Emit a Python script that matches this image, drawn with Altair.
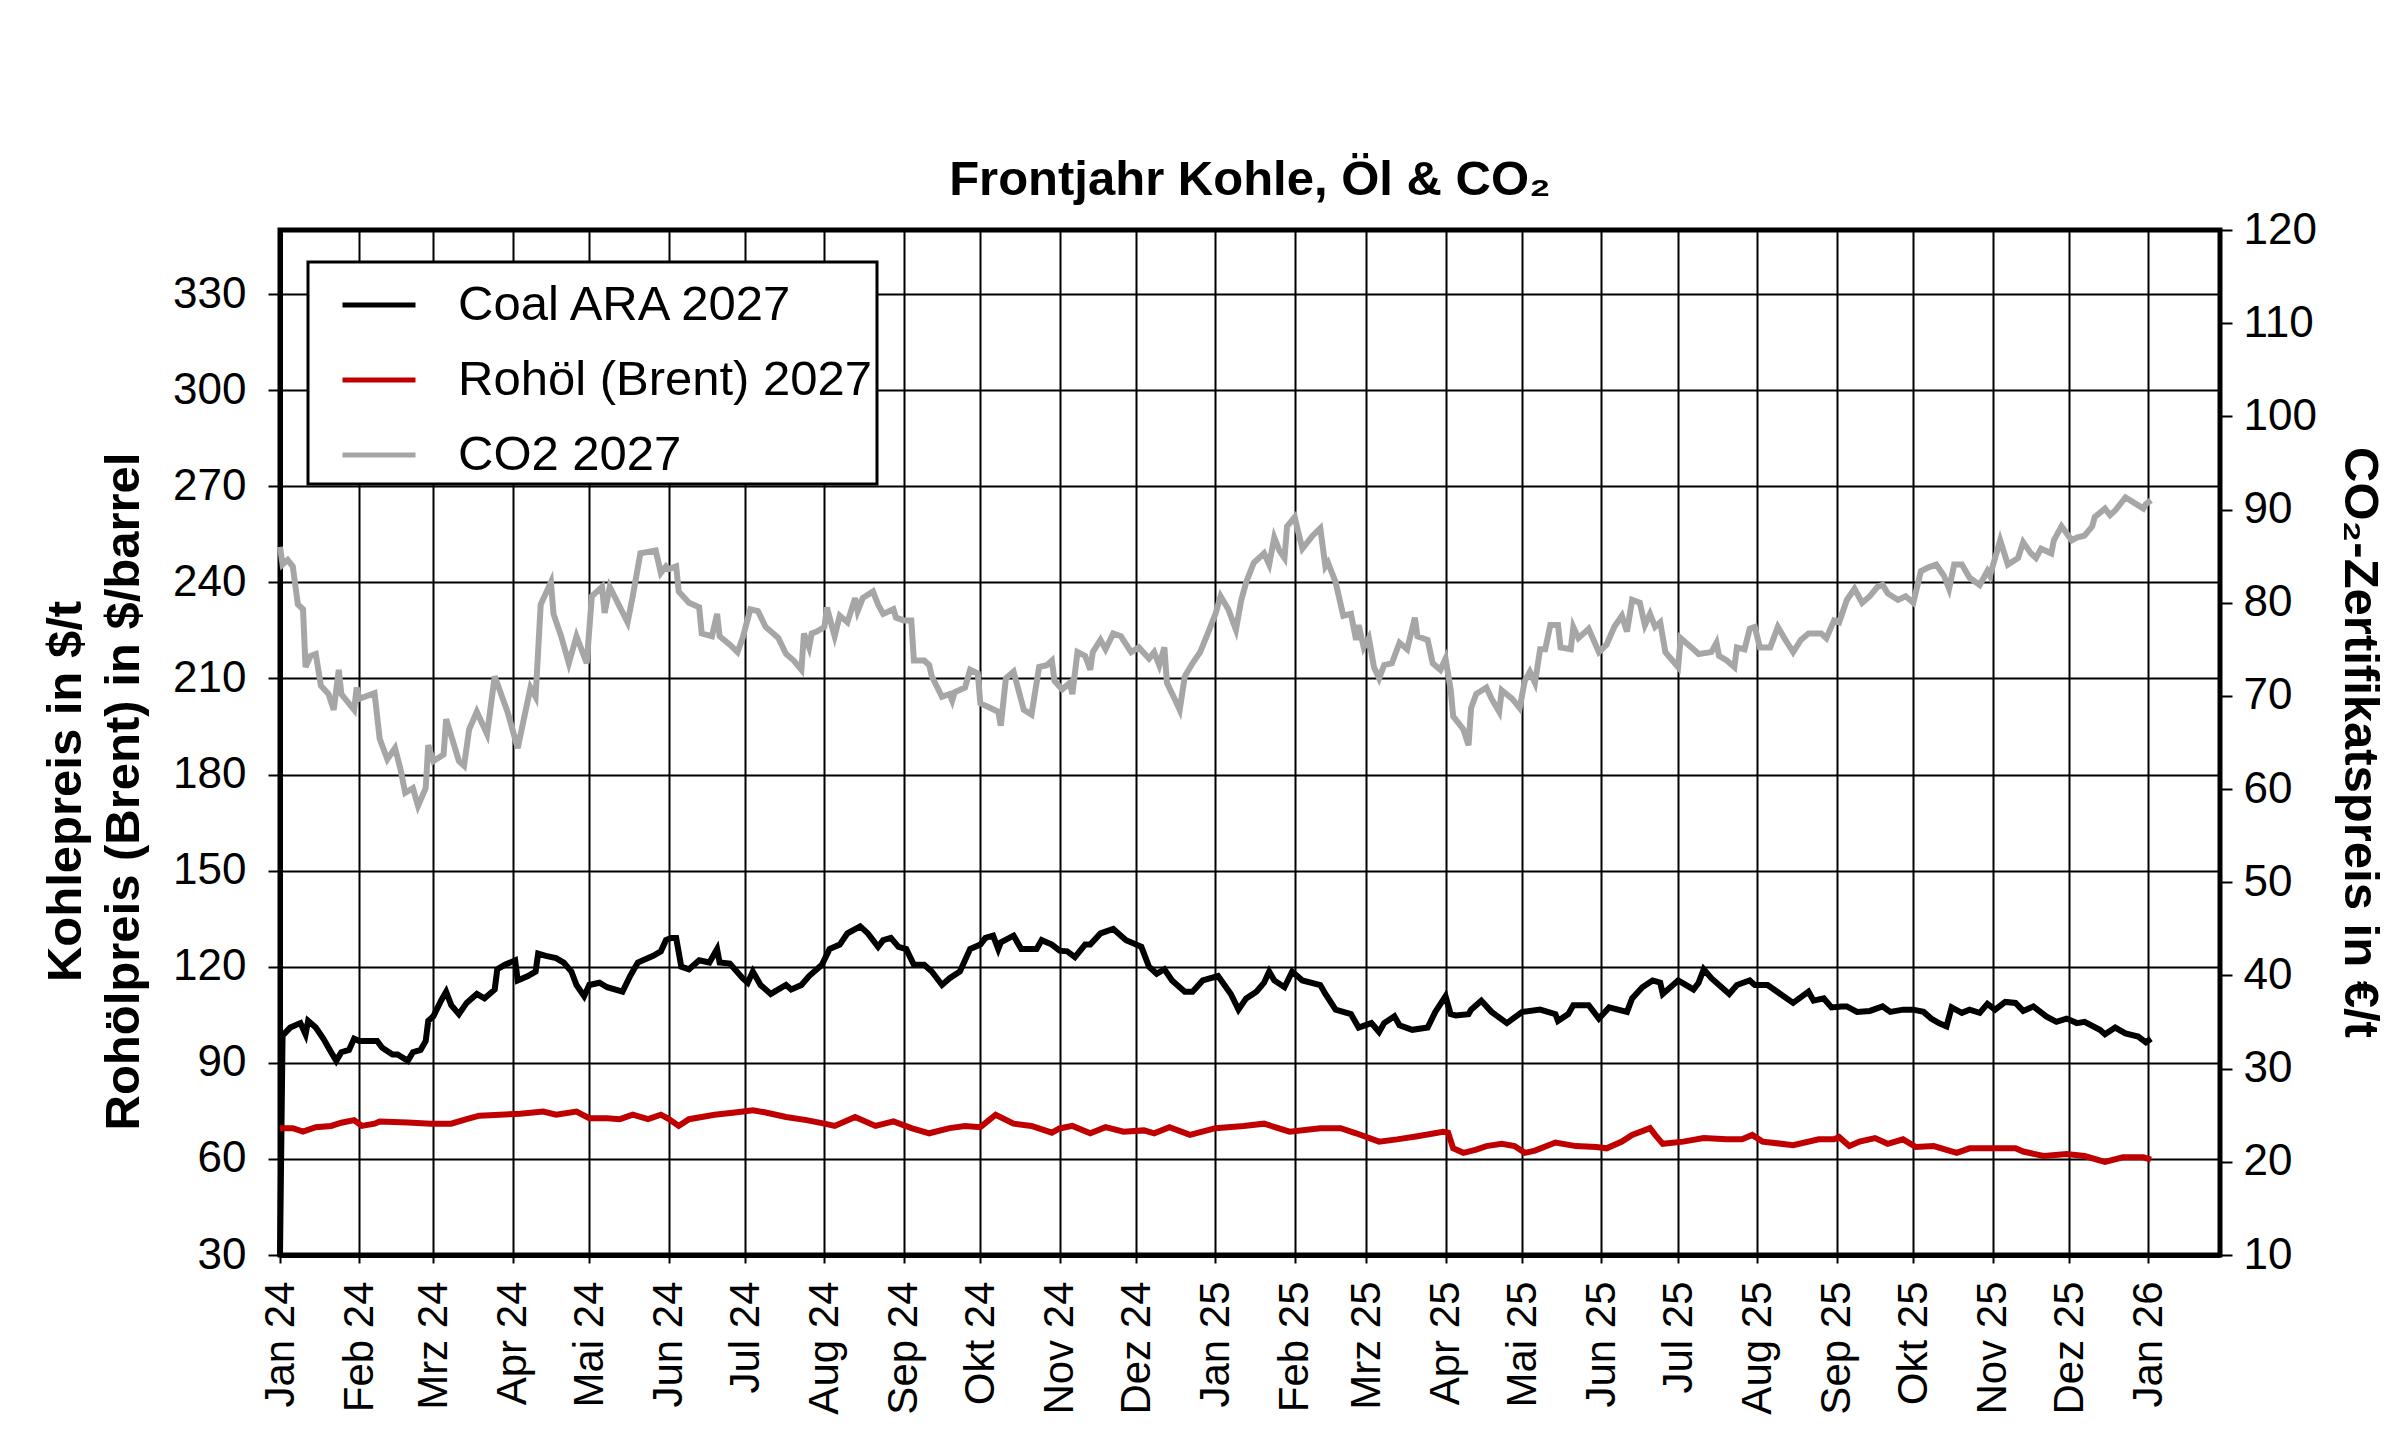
import altair as alt
import pandas as pd

START = "2024-01-01"
SERIES = ["Coal ARA 2027", "Rohöl (Brent) 2027", "CO2 2027"]
COLORS = ["#000000", "#c00000", "#a6a6a6"]
MONTHS_DE = ["Jan", "Feb", "Mrz", "Apr", "Mai", "Jun", "Jul", "Aug", "Sep", "Okt", "Nov", "Dez"]

# days since 2024-01-01
coal_days = [0, 1, 4, 8, 10, 11, 14, 17, 20, 22, 24, 27, 29, 31, 38, 40, 44, 46, 50, 52, 55, 57, 58, 60, 63, 65,
             67, 70, 73, 77, 80, 84, 85, 88, 92, 93, 97, 100, 101, 104, 108, 111, 114, 116, 119, 121, 125, 128, 134,
             137, 140, 146, 149, 151, 153, 155, 157, 160, 164, 168, 171, 172, 176, 181, 183, 185, 188, 192, 195, 198,
             200, 204, 207, 212, 215, 219, 222, 227, 230, 234, 236, 239, 242, 245, 248, 252, 255, 259, 262, 266, 270,
             274, 276, 279, 281, 282, 287, 290, 296, 298, 302, 305, 308, 311, 315, 317, 321, 326, 331, 337, 340, 343,
             346, 349, 354, 357, 361, 367, 372, 375, 378, 382, 385, 387, 389, 393, 396, 400, 407, 409, 413, 416, 419,
             422, 427, 430, 432, 436, 438, 443, 449, 452, 456, 458, 460, 465, 466, 470, 474, 480, 486, 493, 499, 500,
             504, 506, 512, 516, 520, 527, 529, 533, 537, 540, 541, 547, 553, 555, 557, 560, 567, 570, 575, 577, 582,
             587, 592, 598, 600, 604, 607, 611, 613, 617, 622, 627, 630, 635, 639, 643, 646, 649, 652, 654, 658, 661,
             665, 668, 671, 675, 679, 682, 686, 691, 695, 699, 703, 706, 712, 714, 718, 722, 727, 730, 732]
coal_vals = [30.0, 98.5, 101.0, 102.4, 98.9, 103.1, 101.0, 97.5, 93.3, 90.6, 93.3, 94.0, 97.5, 96.8, 96.8, 94.7,
             92.6, 92.6, 90.6, 93.3, 94.0, 96.8, 103.1, 104.5, 109.4, 112.2, 108.0, 105.2, 108.7, 111.5, 110.1, 112.9,
             119.2, 120.6, 122.0, 115.7, 117.1, 118.5, 124.1, 123.4, 122.7, 121.3, 118.5, 114.3, 110.8, 114.3, 115.0,
             113.6, 112.2, 117.1, 121.3, 123.4, 124.8, 128.3, 129.0, 129.0, 120.0, 119.2, 122.0, 121.3, 125.5, 121.3,
             121.0, 116.4, 115.0, 118.5, 114.3, 111.5, 112.9, 114.3, 112.9, 114.3, 117.1, 120.6, 125.5, 126.9, 130.4,
             132.6, 130.4, 126.2, 128.3, 129.0, 126.2, 125.5, 120.6, 120.6, 118.5, 114.3, 116.4, 118.5, 125.5, 126.9,
             129.0, 129.7, 125.5, 127.6, 129.7, 125.5, 125.5, 128.3, 126.9, 125.0, 124.8, 123.0, 126.9, 126.9, 130.4,
             131.8, 128.3, 126.2, 120.0, 117.8, 119.2, 115.7, 112.2, 112.2, 115.7, 117.1, 111.5, 106.6, 110.1, 112.2,
             115.0, 118.5, 115.7, 113.6, 118.5, 115.7, 114.3, 111.5, 106.6, 105.9, 105.2, 101.0, 102.4, 99.6, 102.4,
             104.5, 101.7, 100.3, 101.0, 105.9, 110.8, 105.2, 104.8, 105.2, 106.6, 109.4, 105.9, 102.4, 105.9, 106.6,
             105.2, 103.1, 105.2, 108.0, 108.0, 103.8, 107.3, 105.9, 110.1, 113.6, 115.7, 115.0, 111.5, 115.7, 112.9,
             115.0, 119.2, 116.4, 111.5, 114.3, 115.7, 114.3, 114.3, 111.5, 108.7, 112.2, 109.4, 110.1, 107.3, 107.6,
             107.6, 105.9, 106.2, 107.6, 105.9, 106.6, 106.6, 105.9, 103.8, 102.4, 101.4, 107.3, 105.6, 106.6, 105.6,
             108.4, 106.6, 109.0, 108.7, 106.2, 107.6, 104.5, 102.8, 103.8, 102.4, 102.8, 100.3, 98.9, 101.0, 99.2,
             98.2, 96.4, 97.5]

oil_days = [0, 5, 9, 14, 20, 24, 29, 32, 37, 39, 50, 59, 67, 73, 78, 86, 94, 103, 108, 116, 121, 128, 133, 138, 144,
            149, 152, 156, 160, 165, 170, 178, 185, 190, 198, 206, 213, 217, 225, 233, 240, 247, 254, 262, 268, 274,
            280, 287, 294, 302, 305, 310, 317, 323, 330, 338, 342, 348, 356, 366, 377, 385, 395, 407, 415, 421, 430,
            437, 445, 455, 457, 459, 463, 468, 472, 478, 483, 487, 491, 499, 507, 515, 519, 525, 529, 536, 538, 541,
            549, 557, 566, 572, 576, 580, 592, 602, 608, 610, 614, 618, 624, 629, 635, 640, 647, 656, 661, 670, 679,
            682, 690, 699, 706, 714, 721, 729, 732]
oil_vals = [69.6, 69.6, 68.5, 69.9, 70.3, 71.3, 72.1, 70.3, 71.0, 71.7, 71.4, 71.0, 71.0, 72.4, 73.5, 73.8, 74.1,
            74.8, 73.8, 74.8, 72.7, 72.7, 72.4, 73.8, 72.4, 73.8, 72.5, 70.3, 72.4, 73.1, 73.8, 74.5, 75.2, 74.5,
            73.1, 72.1, 71.0, 70.3, 73.1, 70.3, 71.7, 69.6, 68.0, 69.6, 70.3, 69.9, 73.8, 71.0, 70.3, 68.2, 69.5,
            70.3, 68.0, 69.9, 68.5, 68.9, 68.0, 69.9, 67.5, 69.6, 70.3, 71.0, 68.5, 69.6, 69.6, 68.0, 65.4, 66.1,
            67.1, 68.5, 68.2, 63.3, 61.9, 62.9, 64.0, 64.7, 64.0, 61.9, 62.6, 65.1, 64.0, 63.7, 63.3, 65.4, 67.5,
            69.6, 67.5, 64.7, 65.4, 66.5, 66.1, 66.1, 67.5, 65.4, 64.3, 66.1, 66.1, 66.8, 64.0, 65.4, 66.5, 64.7,
            66.1, 63.7, 64.0, 61.9, 63.3, 63.3, 63.3, 62.3, 60.9, 61.5, 60.9, 59.1, 60.5, 60.5, 59.8]

co2_days = [0, 1, 3, 5, 7, 9, 10, 12, 14, 16, 19, 21, 23, 24, 29, 30, 31, 37, 39, 42, 45, 47, 49, 52, 54, 57, 58, 60,
            64, 65, 70, 72, 74, 77, 81, 84, 89, 93, 98, 100, 102, 106, 107, 110, 113, 116, 120, 122, 126, 127, 129,
            136, 138, 141, 147, 149, 151, 152, 155, 156, 160, 164, 165, 169, 171, 172, 176, 179, 181, 184, 187, 190,
            193, 195, 198, 201, 204, 205, 207, 208, 210, 213, 214, 216, 217, 219, 222, 225, 226, 228, 232, 234, 236,
            240, 241, 244, 247, 248, 252, 254, 255, 259, 262, 263, 264, 268, 270, 273, 274, 278, 281, 282, 284, 287,
            291, 294, 297, 300, 302, 303, 306, 309, 310, 312, 315, 317, 318, 321, 323, 326, 329, 333, 336, 340, 342,
            344, 346, 347, 350, 352, 354, 357, 360, 363, 366, 368, 371, 374, 376, 378, 381, 385, 387, 389, 391, 393,
            394, 397, 398, 400, 404, 407, 409, 410, 413, 416, 419, 421, 422, 424, 426, 428, 430, 432, 435, 438, 441,
            444, 445, 449, 451, 454, 456, 458, 459, 463, 465, 466, 468, 472, 474, 477, 478, 482, 485, 487, 489, 491,
            493, 495, 497, 500, 501, 505, 506, 508, 512, 516, 519, 522, 525, 527, 529, 532, 534, 536, 538, 540, 542,
            547, 548, 553, 555, 560, 562, 563, 566, 569, 570, 573, 575, 577, 579, 583, 586, 589, 592, 595, 598, 603,
            605, 608, 610, 613, 616, 619, 622, 625, 627, 629, 633, 636, 639, 642, 645, 648, 651, 653, 655, 658, 661,
            665, 668, 669, 671, 673, 676, 680, 682, 685, 687, 689, 693, 694, 697, 701, 703, 706, 709, 710, 714, 716,
            718, 722, 725, 729, 730, 732]
co2_vals = [86.0, 84.1, 84.6, 83.9, 79.8, 79.3, 73.1, 74.3, 74.5, 71.1, 70.2, 68.5, 72.8, 70.2, 68.5, 70.9, 69.7,
            70.3, 65.4, 63.2, 64.4, 62.3, 59.6, 60.1, 58.2, 60.1, 64.7, 63.0, 63.7, 67.5, 63.0, 62.5, 66.4, 68.3,
            65.9, 72.1, 68.3, 64.4, 70.9, 69.9, 79.8, 82.2, 78.8, 76.4, 73.5, 76.4, 73.5, 80.7, 81.7, 78.9, 81.7,
            77.9, 80.7, 85.3, 85.6, 83.2, 83.9, 83.6, 83.9, 81.2, 80.0, 79.5, 76.7, 76.4, 78.8, 76.4, 75.5, 74.7,
            76.2, 79.3, 79.1, 77.4, 76.7, 76.2, 74.5, 73.8, 72.8, 76.7, 75.2, 76.7, 76.9, 77.4, 79.5, 77.4, 76.4,
            78.6, 77.9, 80.5, 79.1, 80.5, 81.2, 79.8, 78.8, 79.3, 78.4, 78.1, 78.1, 73.8, 73.8, 73.3, 72.1, 69.9,
            70.2, 69.5, 70.4, 70.9, 72.8, 72.4, 69.2, 68.7, 68.3, 66.8, 71.9, 72.6, 68.5, 68.0, 73.1, 73.3, 73.8,
            71.6, 70.7, 71.4, 70.2, 74.7, 74.3, 72.8, 74.7, 76.0, 75.0, 76.7, 76.4, 74.7, 75.2, 74.0, 74.7, 73.3,
            75.2, 71.4, 69.7, 68.5, 72.1, 73.5, 74.7, 76.7, 78.8, 80.7, 79.3, 77.1, 80.2, 82.2, 84.3, 85.3, 84.1,
            87.0, 85.6, 84.8, 88.2, 89.2, 88.0, 85.8, 87.2, 88.0, 83.9, 84.3, 82.2, 78.6, 78.8, 76.0, 77.6, 75.2,
            76.2, 73.1, 71.9, 73.3, 73.5, 75.7, 75.0, 78.4, 76.4, 76.0, 73.5, 72.8, 74.0, 70.7, 67.8, 66.4, 64.7,
            68.7, 70.2, 70.9, 69.7, 68.3, 70.6, 69.7, 68.7, 71.6, 72.6, 71.4, 75.0, 75.0, 77.6, 77.6, 75.2, 75.0,
            77.4, 76.2, 77.2, 74.7, 75.5, 77.4, 78.6, 76.9, 80.3, 80.0, 77.6, 78.8, 77.4, 77.9, 74.7, 73.1, 76.2,
            75.0, 74.5, 74.7, 75.7, 74.3, 73.8, 73.1, 75.2, 75.0, 77.2, 77.4, 75.2, 75.2, 77.4, 76.0, 74.7, 76.0,
            76.7, 76.7, 76.2, 78.1, 77.9, 80.3, 81.5, 80.0, 80.7, 81.7, 81.9, 81.0, 80.3, 80.7, 80.0, 83.4, 83.8,
            84.1, 82.9, 81.5, 84.1, 84.1, 82.7, 81.9, 83.4, 82.9, 84.8, 86.7, 84.1, 84.8, 86.5, 85.3, 84.8, 85.8,
            85.3, 86.7, 88.2, 86.7, 87.0, 87.2, 88.2, 89.2, 90.1, 89.4, 89.9, 91.3, 90.8, 90.1, 90.6, 91.0]


def frame(days, vals, name):
    dates = (pd.Timestamp(START) + pd.to_timedelta(days, unit="D")).strftime("%Y-%m-%d")
    return pd.DataFrame({"date": list(dates), "value": vals, "series": name})


left_df = pd.concat([frame(coal_days, coal_vals, SERIES[0]), frame(oil_days, oil_vals, SERIES[1])])
co2_df = frame(co2_days, co2_vals, SERIES[2])

FONT = "Liberation Sans"
XTICK_FS = 42
YTICK_FS = 44
month_ticks = [alt.DateTime(year=2024 + (i // 12), month=(i % 12) + 1, date=1, utc=True) for i in range(25)]
month_names = "[" + ",".join("'" + m + "'" for m in MONTHS_DE) + "]"

x_enc = alt.X(
    "date:T",
    scale=alt.Scale(type="utc",
                    domain=[alt.DateTime(year=2024, month=1, date=1, utc=True),
                            alt.DateTime(year=2026, month=1, date=29, utc=True)]),
    axis=alt.Axis(values=month_ticks,
                  labelExpr=month_names + "[utcmonth(datum.value)] + ' ' + utcFormat(datum.value, '%y')",
                  labelAngle=270, labelAlign="right", labelBaseline="middle",
                  labelFont=FONT, labelFontSize=XTICK_FS, labelColor="#000000",
                  labelPadding=18, tickSize=8, tickColor="#000000", tickWidth=2,
                  domainWidth=5, domainColor="#000000",
                  grid=True, gridColor="#000000", gridWidth=2, gridOpacity=1,
                  labelOverlap=False, title=None),
)

color_scale = alt.Scale(domain=SERIES, range=COLORS)
legend = alt.Legend(title=None, orient="none", legendX=28, legendY=32,
                    fillColor="#ffffff", strokeColor="#000000",
                    padding=4, symbolType="stroke", symbolSize=5329, symbolStrokeWidth=5,
                    symbolOffset=28, labelOffset=40, rowPadding=11,
                    labelExpr="datum.label + '\u2007'",
                    labelFont=FONT, labelFontSize=49, labelColor="#000000", labelLimit=800)

left = alt.Chart(left_df).mark_line(strokeWidth=6).encode(
    x=x_enc,
    y=alt.Y("value:Q",
            scale=alt.Scale(domain=[30, 350], nice=False, zero=False),
            axis=alt.Axis(orient="left", values=list(range(30, 331, 30)),
                          grid=True, gridColor="#000000", gridWidth=2, gridOpacity=1,
                          labelFont=FONT, labelFontSize=YTICK_FS, labelColor="#000000",
                          tickSize=12, tickColor="#000000", tickWidth=2, labelPadding=22,
                          domainWidth=5, domainColor="#000000",
                          title=["Kohlepreis in $/t", "Rohölpreis (Brent) in $/barrel"],
                          titleFont=FONT, titleFontSize=49, titleFontWeight="bold",
                          titleAngle=270, titleAlign="center", titleBaseline="middle",
                          titleLineHeight=58, titleX=-215, titleY=561, titleColor="#000000")),
    color=alt.Color("series:N", scale=color_scale, legend=legend),
)

right = alt.Chart(co2_df).mark_line(strokeWidth=6).encode(
    x=x_enc,
    y=alt.Y("value:Q",
            scale=alt.Scale(domain=[10, 120], nice=False, zero=False),
            axis=alt.Axis(orient="right", values=list(range(10, 121, 10)), grid=False,
                          labelFont=FONT, labelFontSize=YTICK_FS, labelColor="#000000",
                          tickSize=12, tickColor="#000000", tickWidth=2, labelPadding=11,
                          domainWidth=3, domainColor="#000000",
                          title="CO₂-Zertifikatspreis in €/t",
                          titleFont=FONT, titleFontSize=49, titleFontWeight="bold",
                          titleAngle=90, titleAlign="center", titleBaseline="middle",
                          titleX=139, titleY=512, titleColor="#000000")),
    color=alt.Color("series:N", scale=color_scale, legend=legend),
)

chart = alt.layer(right, left).resolve_scale(y="independent").properties(
    width=1940,
    height=1025,
    padding={"left": 272, "top": 222, "right": 172, "bottom": 176},
    autosize=alt.AutoSizeParams(type="none"),
    background="#ffffff",
    title=alt.TitleParams(text="Frontjahr Kohle, Öl & CO₂", font=FONT, fontSize=49,
                          fontWeight="bold", color="#000000", anchor="middle", offset=3),
).configure_view(
    stroke="#000000", strokeWidth=5
).configure_legend(
    strokeWidth=3
)

chart.save("out.html", embed_options={"renderer": "svg", "actions": False})
